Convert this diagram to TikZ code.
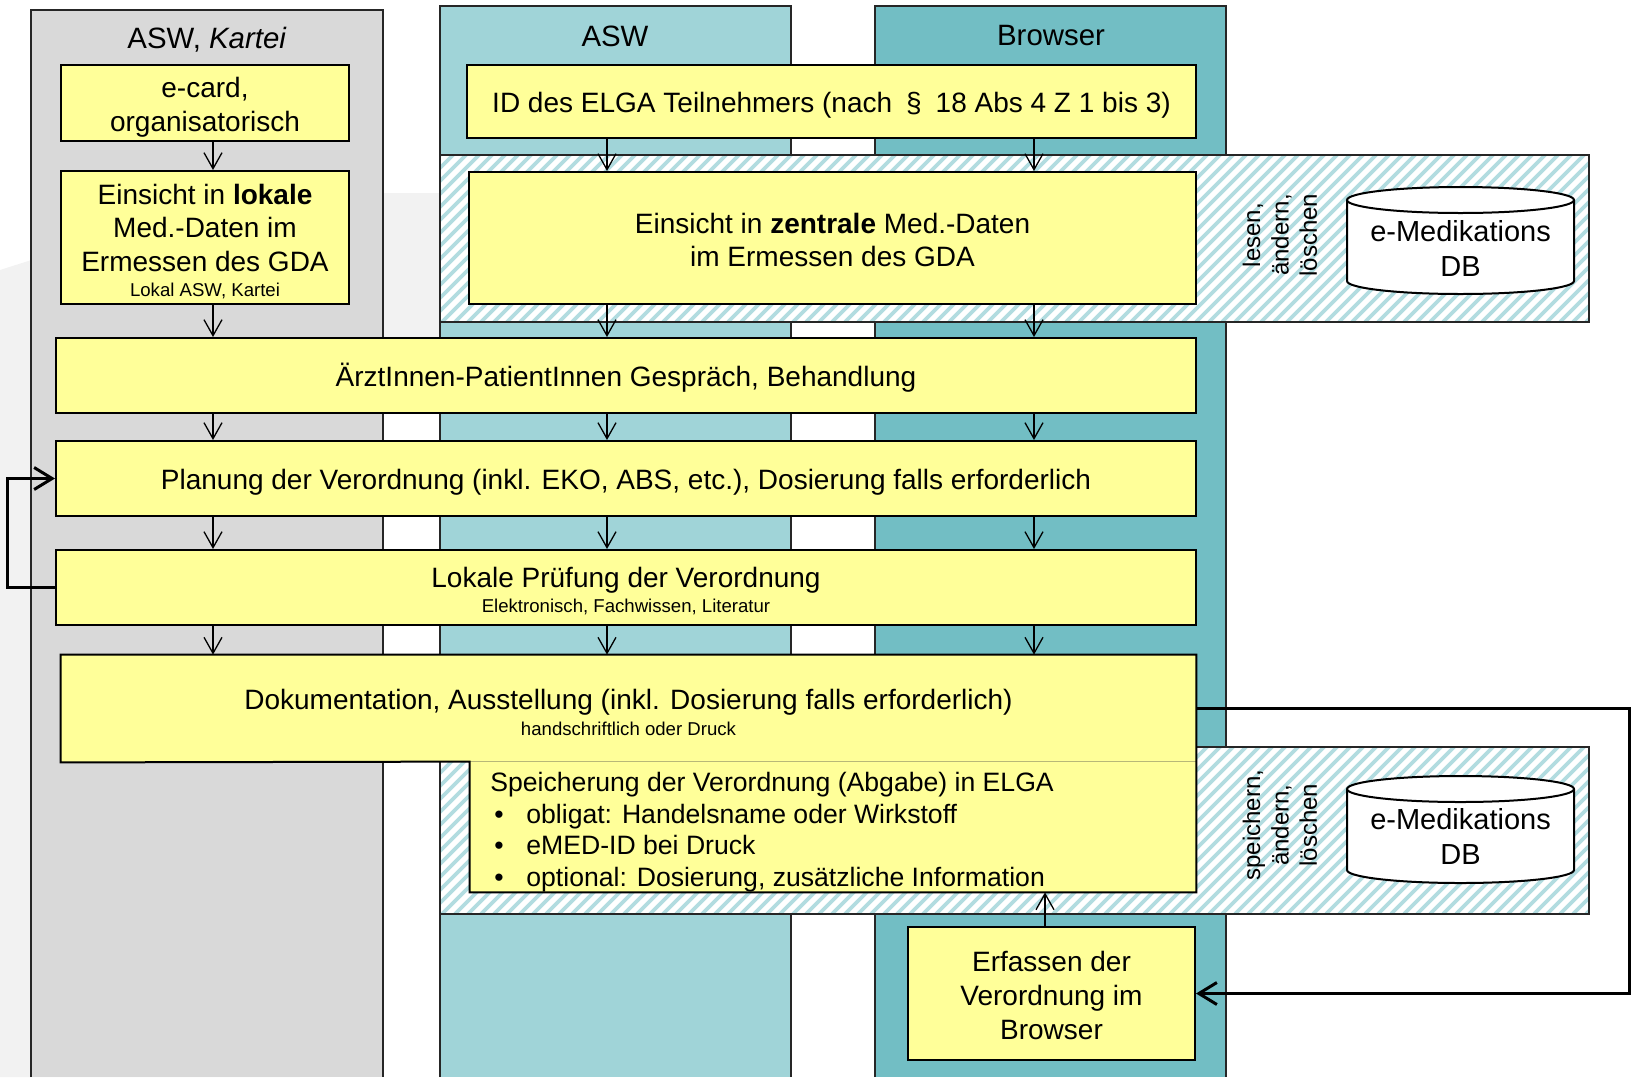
\documentclass[tikz,border=0pt]{standalone}
\usepackage{fontspec}
\setmainfont{Liberation Sans}
\usetikzlibrary{arrows.meta,fit}
\definecolor{lanegray}{HTML}{D9D9D9}
\definecolor{laneasw}{HTML}{A0D4D8}
\definecolor{lanebrw}{HTML}{72BEC4}
\definecolor{boxyellow}{HTML}{FFFF99}
\definecolor{stripecol}{HTML}{B2DCE0}
\definecolor{bglight}{HTML}{F2F2F2}
\definecolor{faintline}{HTML}{B8B878}
\newcommand\myfs[2]{\fontsize{#1}{#2}\selectfont}
\newcommand\dbcyl[2]{%
  \filldraw[cylstyle] (1347,#1) -- (1347,#2)
    arc[start angle=180,end angle=360,x radius=56.75pt,y radius=6.5pt]
    -- (1574,#1)
    arc[start angle=0,end angle=180,x radius=56.75pt,y radius=6.5pt] -- cycle;
  \draw[cylstyle] (1347,#1) arc[start angle=180,end angle=360,x radius=56.75pt,y radius=6.5pt];}
\begin{document}
\begin{tikzpicture}[x=0.5pt,y=-0.5pt,
  boxstyle/.style={draw=black, line width=1pt, fill=boxyellow, inner sep=0pt},
  boxfill/.style={fill=boxyellow, inner sep=0pt},
  boxtext/.style={inner sep=0pt, align=center, font=\myfs{14}{16.8}},
  boxline/.style={draw=black, line width=1pt},
  lanestyle/.style={draw=black!85, line width=0.9pt},
  arr/.style={line width=0.65pt, -{Straight Barb[length=8pt,width=9pt]}},
  fbarrow/.style={line width=1.5pt, -{Straight Barb[length=9pt,width=11pt]}},
  rottext/.style={rotate=90, align=center, inner sep=0pt, font=\myfs{12}{14.2}},
  titletext/.style={inner sep=0pt, font=\myfs{14.7}{17}},
  dbtext/.style={align=center, inner sep=0pt, font=\myfs{14.5}{17.5}},
  cylstyle/.style={draw=black, line width=1pt, fill=white},
  hatchline/.style={stripecol, line width=1.9pt},
  bandline/.style={draw=black!85, line width=0.9pt}
]
\useasboundingbox (0,0) rectangle (1632,1077);
% faint slide background
\fill[bglight] (0,1077) -- (0,270) -- (242,193) -- (460,193) -- (460,380) -- (300,380) -- (300,1077) -- cycle;

% lanes
\fill[lanegray] (31,10) rectangle (383,1077);
\draw[lanestyle] (31,1077) -- (31,10) -- (383,10) -- (383,1077);
\fill[laneasw] (440,6) rectangle (791,1077);
\draw[lanestyle] (440,1077) -- (440,6) -- (791,6) -- (791,1077);
\fill[lanebrw] (875,6) rectangle (1226,1077);
\draw[lanestyle] (875,1077) -- (875,6) -- (1226,6) -- (1226,1077);

\node[titletext] (tL) at (207,40) {ASW, \textit{Kartei}};
\node[titletext] (tA) at (615,36) {ASW};
\node[titletext] (tB) at (1051,36) {Browser};

% hatched bands
\foreach \yt/\yb in {155/322, 747/914} {
  \fill[white] (440,\yt) rectangle (1589,\yb);
  \begin{scope}
    \clip (440,\yt) rectangle (1589,\yb);
    \foreach \i in {260,273,...,1600} \draw[hatchline] (\i,\yb) -- ++(170,-170);
  \end{scope}
  \draw[bandline] (440,\yt) rectangle (1589,\yb);
}

% databases
\dbcyl{200}{281}
\node[dbtext] (db1) at (1460.5,248) {e-Medikations\\DB};
\dbcyl{789}{870}
\node[dbtext] (db2) at (1460.5,836) {e-Medikations\\DB};
\node[rottext] (rw1) at (1280,235) {lesen,\\ändern,\\löschen};
\node[rottext] (rw2) at (1280,825) {speichern,\\ändern,\\löschen};

% column coordinates
\coordinate (cL) at (213,0);
\coordinate (cA) at (607,0);
\coordinate (cB) at (1034,0);
\coordinate (cE) at (1045,0);

% boxes
\node[boxstyle, fit={(61,65) (349,141)}] (ecard) {};
\node[boxtext, yshift=-2pt] (ecardT) at (ecard.center) {e-card,\\organisatorisch};
\node[boxstyle, fit={(61,171) (349,304)}] (lokal) {};
\node[boxtext, yshift=-2pt] (lokalT) at (lokal.center) {Einsicht in \textbf{lokale}\\Med.-Daten im\\Ermessen des GDA\\[-4.3pt]{\myfs{9.3}{11}Lokal ASW, Kartei}};
\node[boxstyle, fit={(467,65) (1196,138)}] (id) {};
\node[boxtext, yshift=-2pt] (idT) at (id.center) {ID des ELGA Teilnehmers (nach\enspace§\enspace18 Abs 4 Z 1 bis 3)};
\node[boxstyle, fit={(469,172) (1196,304)}] (zent) {};
\node[boxtext, yshift=-1pt] (zentT) at (zent.center) {Einsicht in \textbf{zentrale} Med.-Daten\\im Ermessen des GDA};
\node[boxstyle, fit={(56,338) (1196,413)}] (arzt) {};
\node[boxtext, yshift=-1pt] (arztT) at (arzt.center) {ÄrztInnen-PatientInnen Gespräch, Behandlung};
\node[boxstyle, fit={(56,441) (1196,516)}] (plan) {};
\node[boxtext, yshift=-2pt] (planT) at (plan.center) {Planung der Verordnung (inkl. EKO, ABS, etc.), Dosierung falls erforderlich};
\node[boxstyle, fit={(56,550) (1196,625)}] (lokp) {};
\node[boxtext, yshift=-2pt] (lokpT) at (lokp.center) {Lokale Prüfung der Verordnung\\[-4.3pt]{\myfs{9.3}{11}Elektronisch, Fachwissen, Literatur}};
\node[boxfill, fit={(61,655) (1196,762)}] (doku) {};
\node[boxfill, fit={(470,762) (1196,892)}] (spei) {};
\draw[faintline, line width=0.8pt] (spei.north west) -- (spei.north east);
\draw[boxline] (spei.north west) -- (doku.south west) -- (doku.north west) -- (doku.north east) -- (spei.south east) -- (spei.south west) -- cycle;
\node[boxtext, yshift=-2pt] (dokuT) at (doku.center) {Dokumentation, Ausstellung (inkl. Dosierung falls erforderlich)\\[-4pt]{\myfs{9.3}{11}handschriftlich oder Druck}};
\node[anchor=north west, inner sep=0pt, align=left, font=\myfs{13.3}{15.75}] (speitext) at (490,772)
  {Speicherung der Verordnung (Abgabe) in ELGA\\
   \makebox[18pt][l]{\hspace{2pt}•}obligat: Handelsname oder Wirkstoff\\
   \makebox[18pt][l]{\hspace{2pt}•}eMED-ID bei Druck\\
   \makebox[18pt][l]{\hspace{2pt}•}optional: Dosierung, zusätzliche Information};
\node[boxstyle, fit={(908,927) (1195,1060)}] (erf) {};
\node[boxtext, yshift=-1pt] (erfT) at (erf.center) {Erfassen der\\Verordnung im\\Browser};

% arrows
\draw[arr] (ecard.south -| cL) -- (lokal.north -| cL);
\draw[arr] (id.south -| cA) -- (zent.north -| cA);
\draw[arr] (id.south -| cB) -- (zent.north -| cB);
\draw[arr] (lokal.south -| cL) -- (arzt.north -| cL);
\draw[arr] (zent.south -| cA) -- (arzt.north -| cA);
\draw[arr] (zent.south -| cB) -- (arzt.north -| cB);
\foreach \s/\t in {arzt/plan, plan/lokp, lokp/doku} {
  \draw[arr] (\s.south -| cL) -- (\t.north -| cL);
  \draw[arr] (\s.south -| cA) -- (\t.north -| cA);
  \draw[arr] (\s.south -| cB) -- (\t.north -| cB);
}
\draw[arr] (erf.north -| cE) -- (spei.south -| cE);

% feedback loops
\draw[fbarrow] (lokp.west) -- ++(-48,0) |- (plan.west);
\draw[fbarrow] (doku.east) -- ++(433,0) |- (erf.east);
\end{tikzpicture}
\end{document}
